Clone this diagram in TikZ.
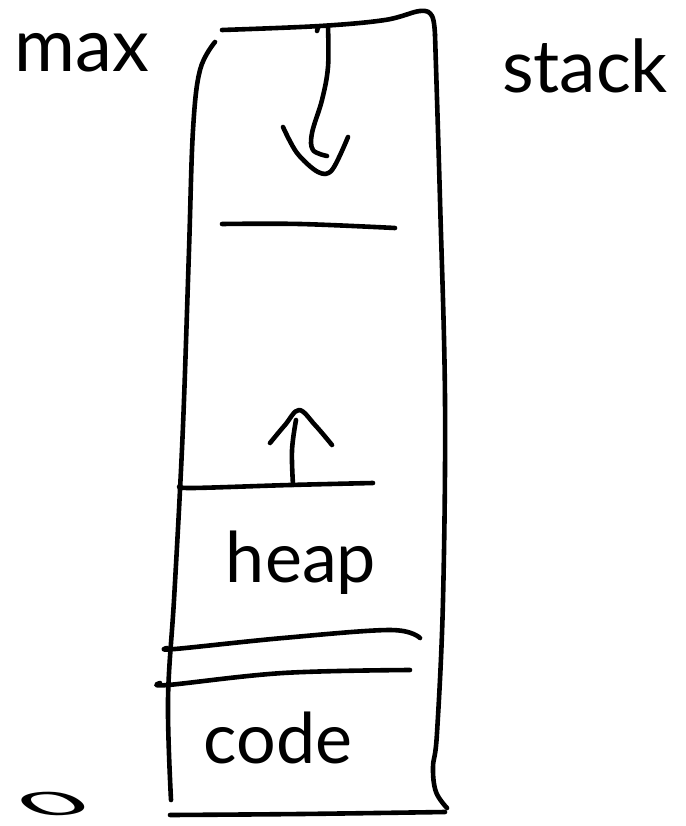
\documentclass[tikz,border=0pt]{standalone}
\usepackage{fontspec}
\setmainfont{Lato}
\begin{document}
\begin{tikzpicture}[x=1pt,y=-1pt,
  ink/.style={line width=4.6pt, line cap=round, line join=round},
  hand/.style={font=\fontsize{70}{70}\selectfont, inner sep=0pt, anchor=base}]
\useasboundingbox (0,0) rectangle (685,826);

% frame: top, right, bottom and left sides
\draw[ink] plot[smooth, tension=0.6] coordinates
  {(222,30) (320,26) (385,20) (420,11) (432,16) (435,35)};
\draw[ink] plot[smooth, tension=0.6] coordinates
  {(435,35) (440,200) (445,400) (443,600) (437,733) (433,767) (436,792) (447,808)};
\draw[ink] plot[smooth, tension=0.6] coordinates
  {(445,812) (300,814) (170,815)};
\draw[ink] plot[smooth, tension=0.6] coordinates
  {(215,42) (200,70) (193,130) (189,250) (184,400) (180,490) (174,600) (168,700) (171,800)};

% stack grows downwards
\coordinate (stackTop) at (328,27);
\coordinate (stackTip) at (318,172);
\draw[ink] (317,31) -- (318,27);
\draw[ink] plot[smooth, tension=0.6] coordinates
  {(stackTop) (328,67) (322,100) (312,133) (313,150) (327,156)};
\draw[ink] plot[smooth, tension=0.55] coordinates
  {(283,127) (297,153) (stackTip) (332,170) (348,137)};

% stack limit
\draw[ink] plot[smooth, tension=0.6] coordinates
  {(222,224) (300,224) (395,228)};

% heap grows upwards
\coordinate (heapBase) at (293,485);
\coordinate (heapTip) at (299,410);
\draw[ink] plot[smooth, tension=0.6] coordinates
  {(heapBase) (292,450) (296,420)};
\draw[ink] plot[smooth, tension=0.6] coordinates
  {(270,443) (285,425) (heapTip) (315,425) (332,445)};

% heap limit
\draw[ink] plot[smooth, tension=0.6] coordinates
  {(180,486) (192,488) (290,485) (373,483)};

% boundaries around the code segment
\draw[ink] plot[smooth, tension=0.6] coordinates
  {(167,648) (175,649) (283,638) (390,630) (420,638)};
\draw[ink] plot[smooth, tension=0.6] coordinates
  {(160,683) (168,685) (283,673) (410,670)};

% labels
\node[hand, font=\fontsize{74}{74}\selectfont] (maxLbl) at (82,72) {max};
\node[hand, font=\fontsize{73}{73}\selectfont] (stackLbl) at (585,93) {stack};
\node[hand] (heapLbl) at (301,582) {heap};
\node[hand] (codeLbl) at (278,763) {code};
\node[inner sep=0pt, xscale=2.5, yscale=0.75, rotate=22, font=\fontsize{44}{44}\selectfont] (zeroLbl) at (53,804) {0};
\end{tikzpicture}
\end{document}
